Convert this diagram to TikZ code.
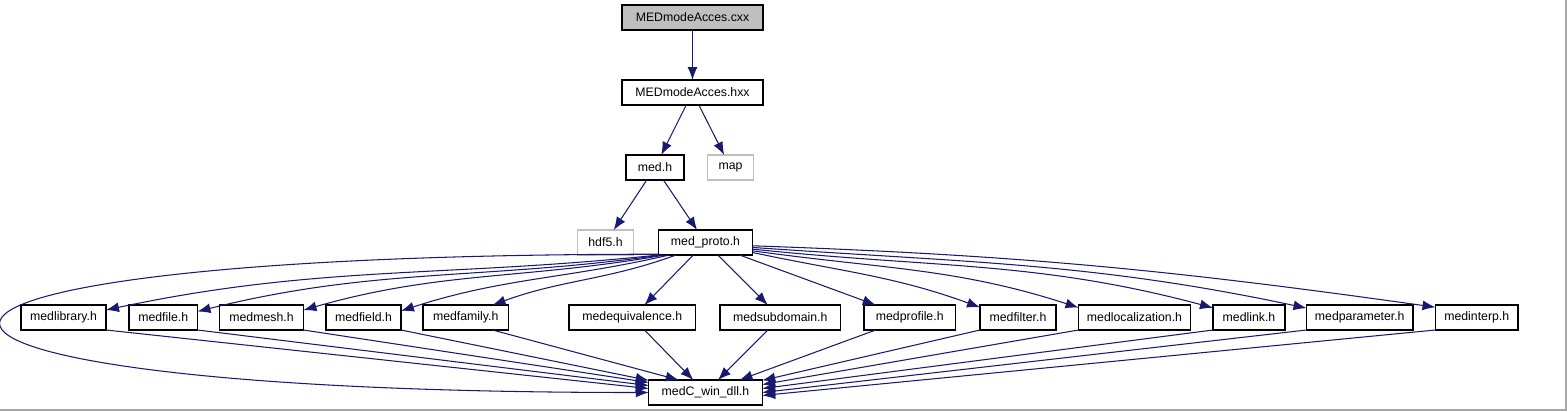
\documentclass[tikz,border=0pt]{standalone}
\usepackage{fontspec}
\setmainfont{Liberation Sans}
\usetikzlibrary{arrows.meta,positioning}
\definecolor{midnight}{HTML}{191970}
\definecolor{greyline}{HTML}{BFBFBF}
\definecolor{framegrey}{HTML}{A8A8A8}

\begin{document}
\begin{tikzpicture}[node distance=0.45cm,
  hdr/.style={draw,line width=0.6pt,fill=white,inner sep=0pt,outer sep=0pt,minimum height=0.5cm,font=\fontsize{7}{8}\selectfont},
  ext/.style={hdr,draw=greyline},
  dep/.style={-{Latex[length=2.6mm,width=2mm]},draw=midnight,line width=0.6pt}]
\useasboundingbox (0,0) rectangle (31.34,-8.22);
\draw[framegrey,line width=0.8pt] (31.32,0) -- (31.32,-8.2) -- (0,-8.2);

\node[hdr,fill=greyline,minimum width=2.82cm] (cxx) at (13.85,-0.35) {MEDmodeAcces.cxx};
\node[hdr,below=1cm of cxx,minimum width=2.82cm] (hxx) {MEDmodeAcces.hxx};
\node[hdr,below=1cm of hxx,xshift=-0.75cm,minimum width=1.16cm] (med) {med.h};
\node[ext,right=0.47cm of med,minimum width=0.92cm] (map) {map};
\node[hdr,below=1cm of med,xshift=1.01cm,minimum width=1.88cm] (proto) {med\_proto.h};
\node[ext,left=0.5cm of proto,minimum width=1.12cm] (hdf5) {hdf5.h};
\node[hdr,below left=1cm and 0.2cm of proto.south,minimum width=2.53cm] (equiv) {medequivalence.h};
\node[hdr,left=1.21cm of equiv,minimum width=1.71cm] (family) {medfamily.h};
\node[hdr,left=0.44cm of family,minimum width=1.5cm] (field) {medfield.h};
\node[hdr,left=0.45cm of field,minimum width=1.68cm] (mesh) {medmesh.h};
\node[hdr,left=0.44cm of mesh,minimum width=1.37cm] (file) {medfile.h};
\node[hdr,left=0.46cm of file,minimum width=1.7cm] (library) {medlibrary.h};
\node[hdr,below right=1cm and 0.29cm of proto.south,minimum width=2.41cm] (subdomain) {medsubdomain.h};
\node[hdr,right=0.47cm of subdomain,minimum width=1.83cm] (profile) {medprofile.h};
\node[hdr,right=0.49cm of profile,minimum width=1.52cm] (filter) {medfilter.h};
\node[hdr,right=0.45cm of filter,minimum width=2.24cm] (local) {medlocalization.h};
\node[hdr,right=0.45cm of local,minimum width=1.44cm] (link) {medlink.h};
\node[hdr,right=0.43cm of link,minimum width=2.13cm] (param) {medparameter.h};
\node[hdr,right=0.45cm of param,minimum width=1.65cm] (interp) {medinterp.h};
\node[hdr,below=2.5cm of proto,minimum width=2.27cm] (dll) {medC\_win\_dll.h};

\draw[dep] (cxx) -- (hxx);
\draw[dep] (hxx) -- (med);
\draw[dep] (hxx) -- (map);
\draw[dep] (med) -- (hdf5);
\draw[dep] (med) -- (proto);
\draw[dep] (proto.194) .. controls +(180:17.7) and +(180:17.1) .. (dll.west);
\draw[dep] (proto.195) to[out=186,in=12] (library.10);
\draw[dep] (proto.196) to[out=188,in=14] (file.10);
\draw[dep] (proto.197) to[out=190,in=16] (mesh.10);
\draw[dep] (proto.199) to[out=193,in=18] (field.10);
\draw[dep] (proto.203) to[out=200,in=20] (family.25);
\draw[dep] (proto) -- (equiv);
\draw[dep] (proto) -- (subdomain);
\draw[dep] (proto) -- (profile);
\draw[dep] (proto.-12) to[out=-12,in=160] (filter.165);
\draw[dep] (proto.-10) to[out=-8,in=162] (local.170);
\draw[dep] (proto.-8) to[out=-6,in=165] (link.165);
\draw[dep] (proto.-6) to[out=-4,in=168] (param.170);
\draw[dep] (proto.-4) to[out=-2,in=172] (interp.166);
\draw[dep] (library.south east) -- (dll.176);
\draw[dep] (file.south east) -- (dll.173);
\draw[dep] (mesh.south east) -- (dll.170);
\draw[dep] (field.south east) -- (dll.168);
\draw[dep] (family.-25) -- (dll.155);
\draw[dep] (equiv) -- (dll);
\draw[dep] (subdomain) -- (dll);
\draw[dep] (profile) -- (dll);
\draw[dep] (filter.south west) -- (dll.12);
\draw[dep] (local.south west) -- (dll.8);
\draw[dep] (link.south west) -- (dll.4);
\draw[dep] (param.south west) -- (dll.0);
\draw[dep] (interp.south west) -- (dll.-3);
\end{tikzpicture}
\end{document}
